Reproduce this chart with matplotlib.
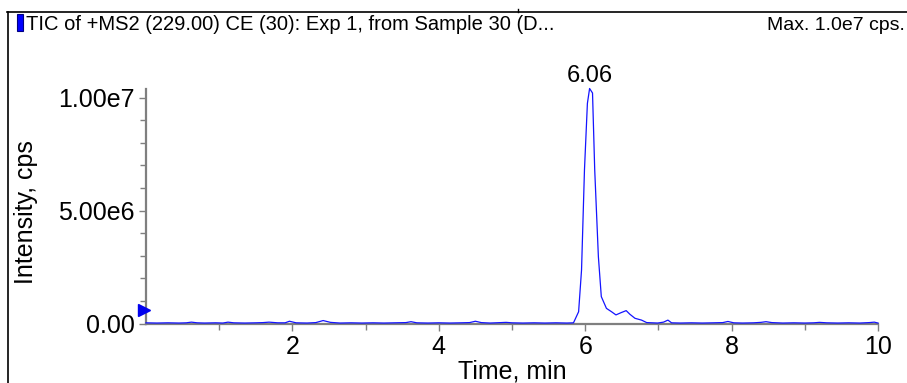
#!/usr/bin/env python3
import numpy as np
from matplotlib import pyplot as plt
from matplotlib.lines import Line2D
from matplotlib.patches import Rectangle

plt.rcParams['font.family'] = ['Liberation Sans', 'DejaVu Sans']

# chromatogram (time in min, intensity in 1e6 cps)
time = [0.00, 0.15, 0.30, 0.45, 0.55, 0.62, 0.70, 0.80, 0.95, 1.05, 1.12, 1.20,
        1.35, 1.50, 1.60, 1.68, 1.80, 1.90, 1.96, 2.05, 2.20, 2.32, 2.42, 2.52,
        2.65, 2.80, 2.95, 3.10, 3.25, 3.40, 3.55, 3.62, 3.70, 3.85, 4.00, 4.15,
        4.30, 4.42, 4.50, 4.58, 4.70, 4.85, 4.92, 5.00, 5.15, 5.30, 5.45, 5.60,
        5.75, 5.84, 5.91, 5.95, 5.99, 6.03, 6.06, 6.10, 6.13, 6.18, 6.22, 6.29,
        6.36, 6.42, 6.49, 6.56, 6.61, 6.68, 6.77, 6.84, 6.92, 6.99, 7.07, 7.13,
        7.18, 7.30, 7.45, 7.60, 7.75, 7.88, 7.95, 8.03, 8.15, 8.30, 8.40, 8.47,
        8.55, 8.70, 8.85, 9.00, 9.12, 9.20, 9.30, 9.45, 9.60, 9.75, 9.88, 9.95,
        10.00]
intensity = [0.03, 0.02, 0.03, 0.02, 0.03, 0.06, 0.03, 0.02, 0.03, 0.02, 0.06, 0.03,
             0.02, 0.03, 0.04, 0.06, 0.03, 0.03, 0.10, 0.03, 0.02, 0.04, 0.13, 0.05,
             0.02, 0.03, 0.02, 0.03, 0.02, 0.03, 0.04, 0.08, 0.03, 0.02, 0.03, 0.02,
             0.03, 0.04, 0.10, 0.04, 0.02, 0.04, 0.05, 0.03, 0.02, 0.03, 0.02, 0.03,
             0.02, 0.03, 0.52, 2.37, 6.80, 9.74, 10.40, 10.20, 6.80, 2.96, 1.19, 0.67,
             0.52, 0.38, 0.48, 0.57, 0.41, 0.23, 0.15, 0.04, 0.03, 0.02, 0.06, 0.15,
             0.03, 0.02, 0.03, 0.02, 0.03, 0.04, 0.09, 0.03, 0.02, 0.03, 0.05, 0.08,
             0.04, 0.02, 0.03, 0.02, 0.03, 0.05, 0.03, 0.02, 0.03, 0.02, 0.04, 0.06,
             0.02]

peak_label = "6.06"
title_left = "TIC of +MS2 (229.00) CE (30): Exp 1, from Sample 30 (D..."
title_right = "Max. 1.0e7 cps."
ytick_vals = [0, 5e6, 1e7]
ytick_labels = ["0.00", "5.00e6", "1.00e7"]
xtick_vals = [2, 4, 6, 8, 10]

W, H = 907, 383
fig = plt.figure(figsize=(W / 100, H / 100), dpi=100)
ax = fig.add_axes([146 / W, 1 - 323.5 / H, (878 - 146) / W, (323.5 - 88.5) / H])

y = np.array(intensity) * 1e6
ax.plot(time, y, color='#1414ff', lw=0.9, clip_on=False, zorder=3)
ax.set_xlim(0, 10)
ax.set_ylim(0, 1.04e7)

grey = '#7f7f7f'
for s in ('top', 'right'):
    ax.spines[s].set_visible(False)
for s in ('left', 'bottom'):
    ax.spines[s].set_color(grey)
    ax.spines[s].set_linewidth(1.6)

ax.set_xticks(xtick_vals)
ax.set_xticklabels([str(v) for v in xtick_vals])
ax.set_xticks([1, 3, 5, 7, 9], minor=True)
ax.set_yticks(ytick_vals)
ax.set_yticklabels(ytick_labels)
ax.set_yticks([1e6, 2e6, 3e6, 4e6, 6e6, 7e6, 8e6, 9e6], minor=True)
ax.tick_params(which='both', direction='out', color=grey, width=1.0, labelsize=18, pad=3)
ax.tick_params(which='major', length=5)
ax.tick_params(which='minor', length=4)

ax.annotate(peak_label, (6.06, 1.04e7), xytext=(0, 1), textcoords='offset points',
            ha='center', va='bottom', fontsize=17, annotation_clip=False)

# threshold marker on the y axis
ax.plot([-0.028], [0.58e6], marker='>', color='#0000ee', ms=9, clip_on=False, zorder=4)

# outer frame and header
fig.add_artist(Line2D([7.5 / W, 7.5 / W], [0, 1 - 12 / H], transform=fig.transFigure,
                      color='black', lw=1.2))
fig.add_artist(Line2D([7 / W, 1], [1 - 12 / H, 1 - 12 / H], transform=fig.transFigure,
                      color='black', lw=1.2))
fig.add_artist(Line2D([518 / W, 518 / W], [1 - 12 / H, 1 - 9 / H], transform=fig.transFigure,
                      color='black', lw=1.0))
fig.add_artist(Rectangle((17 / W, 1 - 31 / H), 6 / W, 17 / H, transform=fig.transFigure,
                         facecolor='#0000ff', edgecolor='#000080', lw=0.8))
fig.text(26 / W, 1 - 25 / H, title_left, fontsize=14.5, ha='left', va='center')
fig.text(905 / W, 1 - 25 / H, title_right, fontsize=14, ha='right', va='center')

fig.text(512 / W, 1 - 371 / H, "Time, min", fontsize=18, ha='center', va='center')
fig.text(26 / W, 1 - 212 / H, "Intensity, cps", fontsize=18, ha='center', va='center',
         rotation=90)

fig.savefig('out.png', dpi=100)
